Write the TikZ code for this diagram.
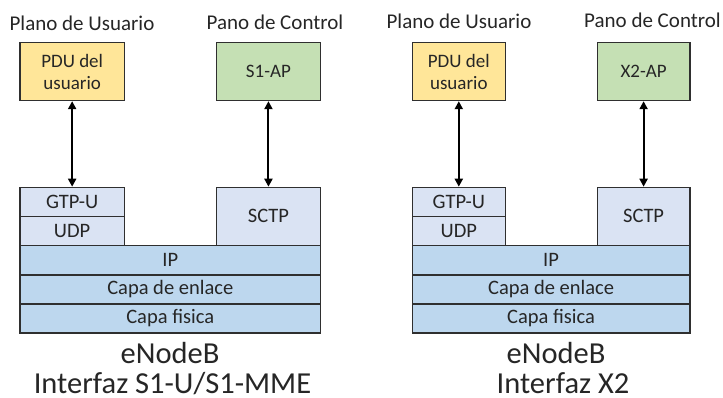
\documentclass[tikz,border=0pt]{standalone}
\usepackage{fontspec}
\setmainfont{Carlito}
\usetikzlibrary{arrows.meta}
\definecolor{pduY}{HTML}{FFE699}
\definecolor{apG}{HTML}{C5E0B4}
\definecolor{upL}{HTML}{DAE3F3}
\definecolor{lowB}{HTML}{BDD7EE}
\definecolor{edge}{HTML}{2F2F2F}
\definecolor{txt}{HTML}{262626}
\tikzset{
  box/.style={draw=edge, line width=1.2pt, inner sep=0pt, anchor=north west, text=txt,
    font=\fontsize{20.5}{22}\selectfont, align=center},
  topbox/.style={box, font=\fontsize{19}{22}\selectfont},
  lbl/.style={inner sep=0pt, anchor=base, text=txt, font=\fontsize{21}{24}\selectfont},
  big/.style={inner sep=0pt, anchor=base, text depth=0pt, text=txt, font=\fontsize{30.5}{34}\selectfont},
  dbl/.style={{Triangle[length=8pt,width=8pt]}-{Triangle[length=8pt,width=8pt]}, line width=2pt, black}
}
\begin{document}
\begin{tikzpicture}[x=1pt,y=-1pt]
\useasboundingbox (0,0) rectangle (723,398);
% ---------- left ----------
\node[lbl] (lu) at (82,31) {Plano de Usuario};
\node[lbl] (lc) at (275,30) {Pano de Control};
\node[topbox, fill=pduY, minimum width=104.5pt, minimum height=57.7pt] (lpdu) at (19.3,42.3) {PDU del\\usuario};
\node[topbox, fill=apG, minimum width=104.3pt, minimum height=57.7pt] (lap) at (215.7,42.3) {S1-AP};
\node[box, fill=upL, minimum width=104.5pt, minimum height=29.3pt] (lgtp) at (19.3,186.7) {GTP-U};
\node[box, fill=upL, minimum width=104.5pt, minimum height=28.7pt] (ludp) at (19.3,216) {UDP};
\node[box, fill=upL, minimum width=104.3pt, minimum height=58pt] (lsctp) at (215.7,186.7) {SCTP};
\node[box, fill=lowB, minimum width=300.7pt, minimum height=29.6pt] (lip) at (19.3,244.7) {IP};
\node[box, fill=lowB, minimum width=300.7pt, minimum height=29pt] (lenl) at (19.3,274.3) {Capa de enlace};
\node[box, fill=lowB, minimum width=300.7pt, minimum height=29pt] (lfis) at (19.3,303.3) {Capa fisica};
\node[big] (le) at (170,363) {eNodeB};
\node[big] (li) at (172.5,393.5) {Interfaz S1-U/S1-MME};
\draw[dbl] (lpdu.south) -- (lgtp.north);
\draw[dbl] (lap.south) -- (lsctp.north);
% ---------- right ----------
\node[lbl] (ru) at (459,28.5) {Plano de Usuario};
\node[lbl] (rc) at (652.5,28) {Pano de Control};
\node[topbox, fill=pduY, minimum width=93pt, minimum height=57.7pt] (rpdu) at (411.7,42.3) {PDU del\\usuario};
\node[topbox, fill=apG, minimum width=92.6pt, minimum height=57.7pt] (rap) at (596.7,42.3) {X2-AP};
\node[box, fill=upL, minimum width=93pt, minimum height=29.3pt] (rgtp) at (411.7,186.7) {GTP-U};
\node[box, fill=upL, minimum width=93pt, minimum height=28.7pt] (rudp) at (411.7,216) {UDP};
\node[box, fill=upL, minimum width=92.6pt, minimum height=58pt] (rsctp) at (596.7,186.7) {SCTP};
\node[box, fill=lowB, minimum width=277.6pt, minimum height=29.6pt] (rip) at (411.7,244.7) {IP};
\node[box, fill=lowB, minimum width=277.6pt, minimum height=29pt] (renl) at (411.7,274.3) {Capa de enlace};
\node[box, fill=lowB, minimum width=277.6pt, minimum height=29pt] (rfis) at (411.7,303.3) {Capa fisica};
\node[big] (re) at (556,363) {eNodeB};
\node[big] (ri) at (563,393.5) {Interfaz X2};
\draw[dbl] (rpdu.south) -- (rgtp.north);
\draw[dbl] (rap.south) -- (rsctp.north);
\end{tikzpicture}
\end{document}
